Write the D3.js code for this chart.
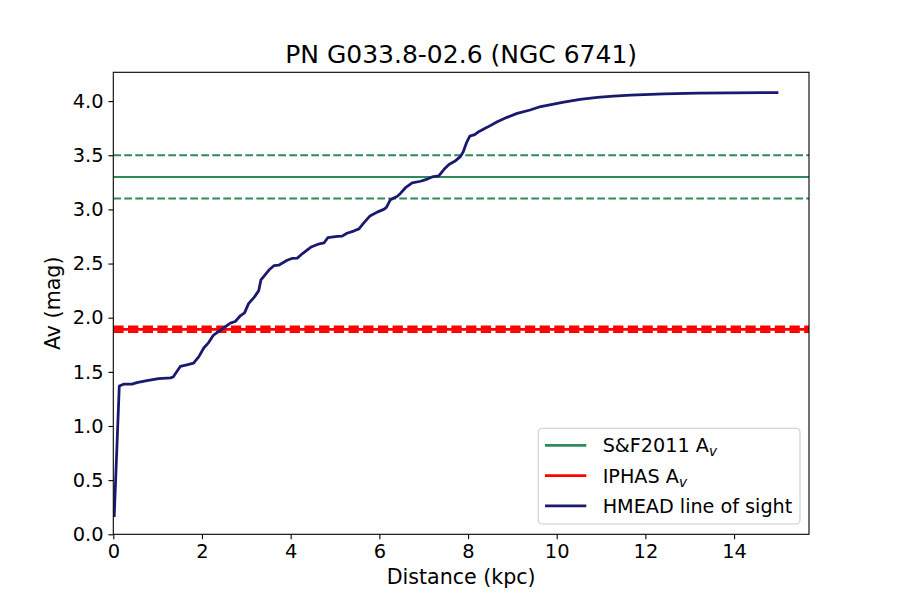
<!DOCTYPE html>
<html>
<head>
<meta charset="utf-8">
<script src="https://cdn.jsdelivr.net/npm/d3@7"></script>
<style>
	body { margin: 0; background: #fff; }
	text { font-family: "DejaVu Sans", sans-serif; fill: #000; }
</style>
</head>
<body>
<div id="chart" style="width:900px;height:600px;"></div>
<script>
// HMEAD line of sight
var distance = [0.02, 0.135, 0.23, 0.42, 0.53, 0.76, 1.02, 1.29, 1.35, 1.51, 1.66, 1.81, 1.93, 2.04, 2.15, 2.26,
	2.49, 2.64, 2.75, 2.87, 2.96, 3.05, 3.18, 3.28, 3.33, 3.51, 3.62, 3.73, 3.92, 4.03, 4.15, 4.26, 4.45, 4.63,
	4.75, 4.84, 5.05, 5.16, 5.27, 5.42, 5.54, 5.65, 5.79, 5.95, 6.10, 6.16, 6.25, 6.40, 6.48, 6.59, 6.74, 6.93,
	7.08, 7.19, 7.34, 7.46, 7.57, 7.72, 7.82, 7.89, 7.97, 8.04, 8.15, 8.25, 8.44, 8.66, 8.88, 9.11, 9.40, 9.64,
	10.16, 10.53, 10.92, 11.28, 11.67, 12.42, 13.18, 13.93, 15.0];
var av = [0.16, 1.37, 1.386, 1.386, 1.40, 1.42, 1.438, 1.444, 1.453, 1.55, 1.564, 1.58, 1.64, 1.72, 1.77, 1.84,
	1.906, 1.95, 1.965, 2.02, 2.045, 2.13, 2.19, 2.25, 2.35, 2.44, 2.48, 2.485, 2.53, 2.547, 2.55, 2.59, 2.65, 2.68,
	2.69, 2.74, 2.75, 2.753, 2.78, 2.80, 2.82, 2.876, 2.94, 2.975, 3.0, 3.018, 3.09, 3.12, 3.15, 3.20, 3.245, 3.26,
	3.28, 3.30, 3.31, 3.37, 3.415, 3.45, 3.485, 3.53, 3.62, 3.677, 3.69, 3.72, 3.76, 3.81, 3.85, 3.887, 3.918, 3.95,
	3.99, 4.017, 4.034, 4.047, 4.055, 4.067, 4.074, 4.077, 4.078];

// reference extinctions
var sfAv = 3.3, sfErr = 0.2;
var iphasAv = 1.893, iphasErr = 0.022;

var xTicks = [0, 2, 4, 6, 8, 10, 12, 14];
var yTicks = [0.0, 0.5, 1.0, 1.5, 2.0, 2.5, 3.0, 3.5, 4.0];
var legendLabels = [
	{name: "S&F2011 A", sub: "v", color: "#2e8b57"},
	{name: "IPHAS A", sub: "v", color: "#ff0000"},
	{name: "HMEAD line of sight", sub: null, color: "#191970"}
];
var title = "PN G033.8-02.6 (NGC 6741)";

var margin = {top: 72.3, right: 91, bottom: 65.7, left: 113.3};
var width = 900, height = 600;
var chartWidth = width - margin.left - margin.right;
var chartHeight = height - margin.top - margin.bottom;

var svg = d3.select("#chart").append("svg")
	.attr("width", width)
	.attr("height", height);

var g = svg.append("g")
	.attr("transform", `translate(${margin.left}, ${margin.top})`);

var x = d3.scaleLinear().domain([0, 15.69]).range([0, chartWidth]);
var y = d3.scaleLinear().domain([0, 4.266]).range([chartHeight, 0]);

// clip so nothing spills out of the frame
svg.append("clipPath").attr("id", "clip")
	.append("rect").attr("width", chartWidth).attr("height", chartHeight);
var plotG = g.append("g").attr("clip-path", "url(#clip)");

// S&F2011 value and error band
function hline(val, color, w, dash){
	plotG.append("line")
		.attr("x1", 0).attr("x2", chartWidth)
		.attr("y1", y(val)).attr("y2", y(val))
		.attr("stroke", color)
		.attr("stroke-width", w)
		.attr("stroke-dasharray", dash);
}
hline(sfAv, "#2e8b57", 2.08, null);
hline(sfAv + sfErr, "#2e8b57", 2.08, "7.7,3.3");
hline(sfAv - sfErr, "#2e8b57", 2.08, "7.7,3.3");
hline(iphasAv, "#ff0000", 2.78, null);
hline(iphasAv + iphasErr, "#ff0000", 2.78, "10.3,4.4");
hline(iphasAv - iphasErr, "#ff0000", 2.78, "10.3,4.4");

// line of sight
var pts = distance.map((d, i) => [d, av[i]]);
plotG.append("path")
	.datum(pts)
	.attr("fill", "none")
	.attr("stroke", "#191970")
	.attr("stroke-width", 2.78)
	.attr("stroke-linejoin", "round")
	.attr("d", d3.line().x(d => x(d[0])).y(d => y(d[1])));

// axes
var xAxis = d3.axisBottom(x).tickValues(xTicks).tickFormat(d3.format("d")).tickSize(4.9).tickPadding(4.9);
var yAxis = d3.axisLeft(y).tickValues(yTicks).tickFormat(d3.format(".1f")).tickSize(4.9).tickPadding(4.9);

var xAxisG = g.append("g").attr("transform", `translate(0, ${chartHeight})`).call(xAxis);
var yAxisG = g.append("g").call(yAxis);
[xAxisG, yAxisG].forEach(a => {
	a.select(".domain").remove();
	a.selectAll(".tick line").attr("stroke", "#000").attr("stroke-width", 1.1);
	a.selectAll(".tick text").style("font-size", "19.4px").style("font-family", "DejaVu Sans");
});

// frame
g.append("rect")
	.attr("width", chartWidth).attr("height", chartHeight)
	.attr("fill", "none").attr("stroke", "#000").attr("stroke-width", 1.1);

// labels
svg.append("text")
	.attr("x", margin.left + chartWidth/2).attr("y", 63.3)
	.style("text-anchor", "middle").style("font-size", "25px")
	.text(title);

svg.append("text")
	.attr("x", margin.left + chartWidth/2).attr("y", 584)
	.style("text-anchor", "middle").style("font-size", "20.6px")
	.text("Distance (kpc)");

svg.append("text")
	.attr("transform", `translate(60, ${margin.top + chartHeight/2}) rotate(270)`)
	.style("text-anchor", "middle").style("font-size", "20.6px")
	.text("Av (mag)");

// legend
var legend = svg.append("g").attr("transform", "translate(538.3, 428.3)");
legend.append("rect")
	.attr("width", 261.7).attr("height", 95.7)
	.attr("rx", 4).attr("ry", 4)
	.attr("fill", "#fff").attr("fill-opacity", 0.8)
	.attr("stroke", "#cccccc").attr("stroke-width", 1.1);

legendLabels.forEach((d, i) => {
	var cy = 17 + i * 30.3;
	legend.append("line")
		.attr("x1", 6.7).attr("x2", 48)
		.attr("y1", cy).attr("y2", cy)
		.attr("stroke", d.color).attr("stroke-width", 2.78);
	var t = legend.append("text")
		.attr("x", 64.4).attr("y", cy + 7)
		.style("font-size", "19.2px");
	t.append("tspan").text(d.name);
	if (d.sub){
		t.append("tspan")
			.attr("dy", 4)
			.style("font-size", "13.5px")
			.style("font-style", "italic")
			.text(d.sub);
	}
});
</script>
</body>
</html>
